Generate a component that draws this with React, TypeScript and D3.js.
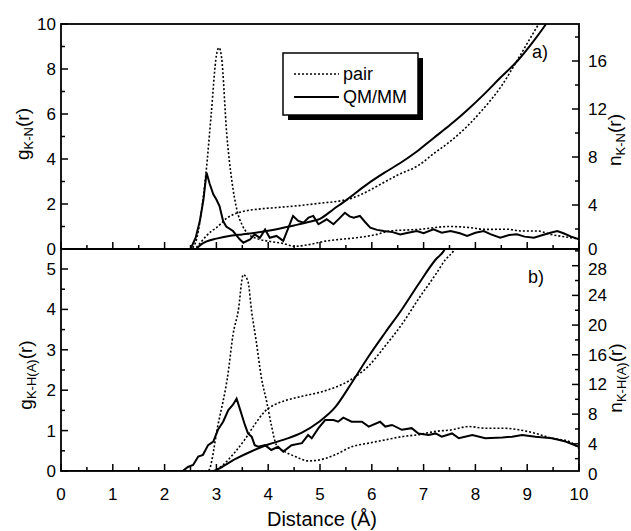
import React, { useRef, useEffect } from 'react';
import * as d3 from 'd3';

// distance (Å), value
const pairGTop: [number, number][] = [
  [0, 0], [2.5, 0], [2.6, 0.3], [2.7, 1.5], [2.8, 3.4], [2.9, 6.0], [3.0, 8.6], [3.05, 8.95],
  [3.1, 8.5], [3.2, 5.1], [3.3, 3.0], [3.4, 1.7], [3.5, 1.05], [3.6, 0.7], [3.8, 0.45],
  [4.0, 0.35], [4.3, 0.24], [4.5, 0.12], [4.8, 0.2], [5.1, 0.35], [5.4, 0.43], [5.7, 0.5],
  [6.1, 0.65], [6.35, 0.8], [6.9, 0.87], [7.5, 1.0], [7.9, 0.95], [8.2, 0.87], [8.6, 0.88],
  [8.9, 0.8], [9.2, 0.8], [9.45, 0.65], [9.85, 0.5], [10, 0.45],
];
const qmGTop: [number, number][] = [
  [0, 0], [2.5, 0], [2.6, 0.5], [2.68, 1.24], [2.75, 2.2], [2.81, 3.39], [2.87, 2.9],
  [2.94, 2.43], [3.0, 2.2], [3.06, 1.91], [3.13, 1.24], [3.19, 1.0], [3.32, 0.8], [3.45, 0.43],
  [3.52, 0.28], [3.65, 0.43], [3.74, 0.65], [3.84, 0.5], [3.94, 0.87], [4.03, 0.5], [4.16, 0.58],
  [4.29, 0.36], [4.48, 1.47], [4.58, 1.25], [4.68, 1.17], [4.78, 1.4], [4.87, 1.47], [4.97, 1.1],
  [5.13, 1.32], [5.26, 1.1], [5.37, 1.35], [5.48, 1.61], [5.57, 1.45], [5.65, 1.39], [5.77, 1.47],
  [5.87, 1.2], [5.97, 0.95], [6.1, 0.85], [6.23, 0.8], [6.4, 0.75], [6.55, 0.65], [6.7, 0.72],
  [6.87, 0.8], [7.0, 0.7], [7.19, 0.87], [7.35, 0.72], [7.52, 0.8], [7.7, 0.7], [7.84, 0.58],
  [8.0, 0.72], [8.16, 0.8], [8.3, 0.65], [8.48, 0.5], [8.65, 0.62], [8.8, 0.65], [8.95, 0.55],
  [9.13, 0.5], [9.3, 0.62], [9.45, 0.72], [9.58, 0.8], [9.7, 0.7], [9.85, 0.55], [10, 0.43],
];
const pairNTop: [number, number][] = [
  [2.5, 0], [2.6, 0.4], [2.7, 0.9], [2.8, 1.4], [2.9, 1.8], [3.0, 2.1], [3.1, 2.5], [3.2, 2.9],
  [3.3, 3.15], [3.5, 3.45], [3.8, 3.65], [4.2, 3.8], [4.6, 3.95], [5.0, 4.15], [5.4, 4.35],
  [5.6, 4.55], [5.9, 5.1], [6.2, 5.8], [6.5, 6.5], [6.9, 7.3], [7.2, 8.3], [7.5, 9.25],
  [7.85, 10.6], [8.15, 12.0], [8.5, 13.9], [8.8, 16.0], [9.1, 18.2], [9.25, 19.3], [9.4, 20.5],
];
const qmNTop: [number, number][] = [
  [2.5, 0], [2.6, 0.3], [2.7, 0.7], [2.8, 0.95], [3.0, 1.2], [3.3, 1.45], [3.5, 1.55],
  [4.0, 1.85], [4.5, 2.3], [4.8, 2.6], [5.0, 2.85], [5.26, 3.65], [5.52, 4.45], [5.9, 5.7],
  [6.23, 6.65], [6.55, 7.5], [6.87, 8.46], [7.19, 9.57], [7.52, 10.7], [7.84, 11.9],
  [8.16, 13.2], [8.48, 14.6], [8.81, 16.0], [9.13, 17.7], [9.35, 19.0], [9.5, 20.0],
];
const pairGBot: [number, number][] = [
  [0, 0], [2.84, 0], [3.03, 1.14], [3.23, 2.46], [3.32, 3.37], [3.42, 3.95], [3.52, 4.86],
  [3.61, 4.69], [3.68, 3.95], [3.77, 3.2], [3.87, 2.3], [3.97, 1.72], [4.06, 1.14], [4.16, 0.64],
  [4.32, 0.48], [4.52, 0.36], [4.77, 0.25], [4.97, 0.27], [5.29, 0.4], [5.61, 0.6], [5.94, 0.69],
  [6.26, 0.77], [6.58, 0.85], [6.9, 0.9], [7.23, 0.98], [7.55, 1.02], [7.87, 1.1], [8.19, 1.06],
  [8.52, 1.06], [8.84, 1.02], [9.16, 0.93], [9.48, 0.81], [9.81, 0.73], [10, 0.56],
];
const qmGBot: [number, number][] = [
  [0, 0], [2.35, 0], [2.45, 0.1], [2.55, 0.15], [2.65, 0.36], [2.74, 0.4], [2.84, 0.64],
  [2.94, 0.73], [3.03, 1.02], [3.13, 1.22], [3.23, 1.51], [3.32, 1.64], [3.39, 1.79], [3.45, 1.55],
  [3.55, 1.14], [3.61, 0.93], [3.68, 0.85], [3.74, 0.64], [3.81, 0.6], [3.94, 0.64], [4.06, 0.52],
  [4.19, 0.6], [4.29, 0.48], [4.45, 0.64], [4.65, 0.69], [4.77, 0.89], [4.84, 0.81], [4.97, 1.06],
  [5.1, 1.26], [5.26, 1.26], [5.35, 1.22], [5.45, 1.32], [5.61, 1.22], [5.81, 1.22], [5.94, 1.1],
  [6.16, 1.22], [6.26, 1.1], [6.39, 1.14], [6.58, 1.02], [6.77, 1.06], [6.9, 0.93], [7.1, 0.89],
  [7.23, 0.93], [7.35, 0.85], [7.55, 0.93], [7.68, 0.81], [7.94, 0.89], [8.19, 0.81], [8.52, 0.83],
  [8.71, 0.85], [8.9, 0.89], [9.16, 0.85], [9.48, 0.81], [9.74, 0.73], [10, 0.6],
];
const pairNBot: [number, number][] = [
  [2.87, 0], [3.1, 1.0], [3.35, 2.8], [3.55, 4.6], [3.74, 6.6], [3.94, 8.4], [4.13, 9.3],
  [4.32, 9.8], [4.65, 10.4], [4.97, 10.9], [5.29, 11.6], [5.61, 12.7], [5.94, 14.5],
  [6.26, 17.2], [6.58, 20.1], [6.9, 23.5], [7.23, 26.8], [7.42, 28.8], [7.58, 30.0], [7.7, 31.5],
];
const qmNBot: [number, number][] = [
  [2.77, 0], [3.03, 0.6], [3.35, 1.9], [3.68, 3.0], [4.0, 3.9], [4.32, 4.6], [4.65, 5.5],
  [4.97, 6.9], [5.29, 8.9], [5.61, 12.2], [5.94, 15.8], [6.26, 19.0], [6.58, 22.1], [6.9, 25.5],
  [7.23, 28.8], [7.39, 30.0], [7.5, 31.5],
];

const xTicks = [0, 1, 2, 3, 4, 5, 6, 7, 8, 9, 10];
const gTopTicks = [0, 2, 4, 6, 8, 10];
const nTopTicks = [0, 4, 8, 12, 16];
const gBotTicks = [0, 1, 2, 3, 4, 5];
const nBotTicks = [0, 4, 8, 12, 16, 20, 24, 28];
const legendLabels = ['pair', 'QM/MM'];

function RdfChart() {
  const svgRef = useRef<SVGSVGElement | null>(null);

  useEffect(() => {
    const svg = d3.select(svgRef.current);
    svg.selectAll('*').remove();

    const left = 61;
    const right = 579;
    const top = 24;
    const mid = 249;
    const bottom = 471;
    const font = 'Liberation Sans, Arial, sans-serif';

    const x = d3.scaleLinear().domain([0, 10]).range([left, right]);
    const gTop = d3.scaleLinear().domain([0, 10]).range([mid, top]);
    const nTop = d3.scaleLinear().domain([0, 16]).range([253, 61]);
    const gBot = d3.scaleLinear().domain([0, 5]).range([bottom, 269]);
    const nBot = d3.scaleLinear().domain([0, 28]).range([473.5, 265.7]);

    const defs = svg.append('defs');
    defs.append('clipPath').attr('id', 'clipTop')
      .append('rect').attr('x', left).attr('y', top).attr('width', right - left).attr('height', mid - top);
    defs.append('clipPath').attr('id', 'clipBot')
      .append('rect').attr('x', left).attr('y', mid).attr('width', right - left).attr('height', bottom - mid);

    const dotted = '2,2';

    const drawLine = (data: [number, number][], y: d3.ScaleLinear<number, number>, clip: string, dashed: boolean, curve: d3.CurveFactory) => {
      const line = d3.line<[number, number]>()
        .x((d) => x(d[0]))
        .y((d) => y(d[1]))
        .curve(curve);
      svg.append('path')
        .datum(data)
        .attr('clip-path', `url(#${clip})`)
        .attr('d', line)
        .attr('fill', 'none')
        .attr('stroke', '#000')
        .attr('stroke-width', dashed ? 1.6 : 2)
        .attr('stroke-dasharray', dashed ? dotted : null);
    };

    // panel a)
    drawLine(pairGTop, gTop, 'clipTop', true, d3.curveMonotoneX);
    drawLine(qmGTop, gTop, 'clipTop', false, d3.curveLinear);
    drawLine(pairNTop, nTop, 'clipTop', true, d3.curveMonotoneX);
    drawLine(qmNTop, nTop, 'clipTop', false, d3.curveMonotoneX);
    // panel b)
    drawLine(pairGBot, gBot, 'clipBot', true, d3.curveMonotoneX);
    drawLine(qmGBot, gBot, 'clipBot', false, d3.curveLinear);
    drawLine(pairNBot, nBot, 'clipBot', true, d3.curveMonotoneX);
    drawLine(qmNBot, nBot, 'clipBot', false, d3.curveMonotoneX);

    // frames
    [[top, mid], [mid, bottom]].forEach(([y0, y1]) => {
      svg.append('rect')
        .attr('x', left).attr('y', y0)
        .attr('width', right - left).attr('height', y1 - y0)
        .attr('fill', 'none').attr('stroke', '#000').attr('stroke-width', 1.8);
    });

    const ticks = svg.append('g').attr('stroke', '#000').attr('stroke-width', 1.5);

    // x ticks on the bottom edge of both panels, pointing inward
    [mid, bottom].forEach((yb) => {
      d3.range(0, 10.01, 0.5).forEach((v) => {
        const major = Math.abs(v - Math.round(v)) < 1e-6;
        ticks.append('line')
          .attr('x1', x(v)).attr('x2', x(v))
          .attr('y1', yb).attr('y2', yb - (major ? 7 : 4));
      });
    });

    const yTicks = (scale: d3.ScaleLinear<number, number>, step: number, max: number, xPos: number, dir: number, y0: number, y1: number) => {
      d3.range(0, max + 1e-6, step / 2).forEach((v, i) => {
        const py = scale(v);
        if (py < y0 - 0.5 || py > y1 + 0.5) return;
        ticks.append('line')
          .attr('x1', xPos).attr('x2', xPos + dir * (i % 2 === 0 ? 7 : 4))
          .attr('y1', py).attr('y2', py);
      });
    };
    yTicks(gTop, 2, 10, left, 1, top, mid);
    yTicks(nTop, 4, 20, right, -1, top, mid);
    yTicks(gBot, 1, 5.4, left, 1, mid, bottom);
    yTicks(nBot, 4, 30, right, -1, mid, bottom);

    const labels = svg.append('g')
      .attr('font-family', font)
      .attr('font-size', 17)
      .attr('fill', '#000');

    xTicks.forEach((v) => {
      labels.append('text')
        .attr('x', x(v)).attr('y', 500)
        .attr('text-anchor', 'middle')
        .text(v);
    });
    const leftLabels = (vals: number[], scale: d3.ScaleLinear<number, number>) => {
      vals.forEach((v) => {
        labels.append('text')
          .attr('x', 56).attr('y', scale(v) + 6)
          .attr('text-anchor', 'end')
          .text(v);
      });
    };
    const rightLabels = (vals: number[], scale: d3.ScaleLinear<number, number>, shift: (v: number) => number) => {
      vals.forEach((v) => {
        labels.append('text')
          .attr('x', 588).attr('y', scale(v) + 6 + shift(v))
          .attr('text-anchor', 'start')
          .text(v);
      });
    };
    leftLabels(gTopTicks, gTop);
    leftLabels(gBotTicks, gBot);
    // the top-right 0 and bottom-right 28 sit very close, nudge them apart a little
    rightLabels(nTopTicks, nTop, (v) => (v === 0 ? -4 : 0));
    rightLabels(nBotTicks, nBot, (v) => (v === 28 ? 3 : 0));

    // axis titles
    const title = (cx: number, cy: number, main: string, sub: string) => {
      const t = svg.append('text')
        .attr('transform', `translate(${cx},${cy}) rotate(-90)`)
        .attr('text-anchor', 'middle')
        .attr('font-family', font)
        .attr('font-size', 19)
        .attr('fill', '#000');
      t.append('tspan').text(main);
      t.append('tspan').attr('font-size', 13).attr('dy', 4).text(sub);
      t.append('tspan').attr('dy', -4).text('(r)');
    };
    title(29, 134, 'g', 'K-N');
    title(32, 375, 'g', 'K-H(A)');
    title(621, 140, 'n', 'K-N');
    title(622, 378, 'n', 'K-H(A)');

    svg.append('text')
      .attr('x', (left + right) / 2 + 2).attr('y', 526)
      .attr('text-anchor', 'middle')
      .attr('font-family', font).attr('font-size', 20)
      .text('Distance (Å)');

    svg.append('text')
      .attr('x', 532).attr('y', 58)
      .attr('font-family', font).attr('font-size', 18)
      .text('a)');
    svg.append('text')
      .attr('x', 528).attr('y', 283)
      .attr('font-family', font).attr('font-size', 18)
      .text('b)');

    // legend with drop shadow
    const lg = svg.append('g');
    lg.append('rect')
      .attr('x', 288).attr('y', 58).attr('width', 135).attr('height', 62)
      .attr('fill', '#000');
    lg.append('rect')
      .attr('x', 283).attr('y', 53).attr('width', 135).attr('height', 62)
      .attr('fill', '#fff').attr('stroke', '#000').attr('stroke-width', 1.5);
    legendLabels.forEach((name, i) => {
      const ly = 74 + i * 23;
      lg.append('line')
        .attr('x1', 294).attr('x2', 339)
        .attr('y1', ly).attr('y2', ly)
        .attr('stroke', '#000')
        .attr('stroke-width', i === 0 ? 1.6 : 2)
        .attr('stroke-dasharray', i === 0 ? dotted : null);
      lg.append('text')
        .attr('x', 343).attr('y', ly + 6)
        .attr('font-family', font).attr('font-size', 18)
        .text(name);
    });
  }, []);

  return (
    <svg
      ref={svgRef}
      width={631}
      height={531}
      style={{ position: 'absolute', left: 0, top: 0, background: '#fff' }}
    />
  );
}

export default function App() {
  return <RdfChart />;
}
